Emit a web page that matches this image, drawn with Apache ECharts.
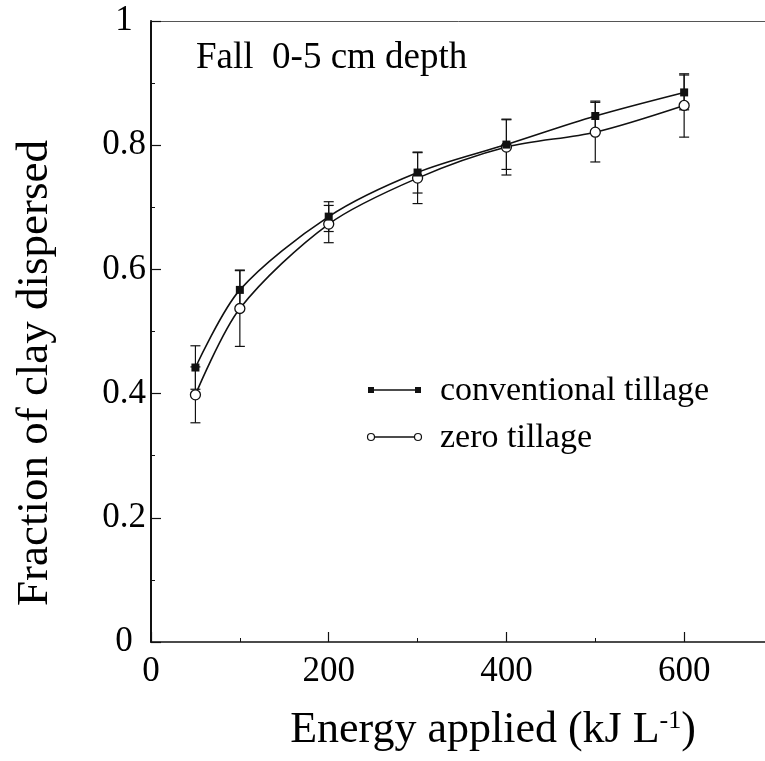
<!DOCTYPE html>
<html>
<head>
<meta charset="utf-8">
<script src="https://cdn.jsdelivr.net/npm/echarts@6/dist/echarts.min.js"></script>
<style>
  html, body { margin: 0; padding: 0; background: #fff; }
  #chart { width: 765px; height: 761px; }
</style>
</head>
<body>
<div id="chart"></div>
<script>
// Energy applied (kJ/L) at each sonication step
var energy = [50, 100, 200, 300, 400, 500, 600];
// Fraction of clay dispersed, conventional tillage (mean and error)
var convMean = [0.442, 0.567, 0.685, 0.756, 0.801, 0.847, 0.885];
var convErr  = [0.035, 0.032, 0.024, 0.033, 0.040, 0.024, 0.028];
// Fraction of clay dispersed, zero tillage (mean and error)
var zeroMean = [0.398, 0.537, 0.673, 0.747, 0.797, 0.821, 0.864];
var zeroErr  = [0.045, 0.061, 0.030, 0.041, 0.045, 0.048, 0.051];

var FONT = '"Liberation Serif", "Times New Roman", serif';

function pairs(xs, ys) {
  return xs.map(function (x, i) { return [x, ys[i]]; });
}
function errRows(xs, ys, es) {
  return xs.map(function (x, i) { return [x, ys[i] - es[i], ys[i] + es[i]]; });
}

// vertical error bar with caps at both ends
function renderErrorBar(params, api) {
  var x = api.value(0);
  var lo = api.coord([x, api.value(1)]);
  var hi = api.coord([x, api.value(2)]);
  var half = 5;
  var style = { stroke: '#111', lineWidth: 1.2, fill: null };
  return {
    type: 'group',
    children: [
      { type: 'line', shape: { x1: lo[0], y1: lo[1], x2: hi[0], y2: hi[1] }, style: style },
      { type: 'line', shape: { x1: lo[0] - half, y1: lo[1], x2: lo[0] + half, y2: lo[1] }, style: style },
      { type: 'line', shape: { x1: hi[0] - half, y1: hi[1], x2: hi[0] + half, y2: hi[1] }, style: style }
    ]
  };
}

var chart = echarts.init(document.getElementById('chart'), null, { renderer: 'canvas' });

var option = {
  backgroundColor: '#ffffff',
  animation: false,
  // the frame runs a little past the right edge of the canvas
  grid: { left: 151, right: -8, top: 21, bottom: 119, outerBoundsMode: 'none', containLabel: false },
  xAxis: [
    {
      type: 'value', min: 0, max: 700, interval: 200, position: 'bottom',
      axisLine: { show: true, lineStyle: { color: '#111', width: 1.5 } },
      axisTick: { show: true, inside: true, length: 10, lineStyle: { color: '#111', width: 1.2 } },
      axisLabel: {
        margin: 12, color: '#000', fontFamily: FONT, fontSize: 35,
        formatter: function (v) { return v % 200 === 0 ? String(v) : ''; }
      },
      splitLine: { show: false }
    },
    {
      type: 'value', min: 0, max: 700, interval: 100, position: 'bottom',
      axisLine: { show: false },
      axisTick: { show: true, inside: true, length: 4, lineStyle: { color: '#111', width: 1 } },
      axisLabel: { show: false },
      splitLine: { show: false }
    },
    {
      type: 'value', min: 0, max: 700, position: 'top',
      axisLine: { show: true, lineStyle: { color: '#555', width: 1 } },
      axisTick: { show: false }, axisLabel: { show: false }, splitLine: { show: false }
    }
  ],
  yAxis: [
    {
      type: 'value', min: 0, max: 1, interval: 0.2, position: 'left',
      axisLine: { show: true, lineStyle: { color: '#111', width: 2 } },
      axisTick: { show: true, inside: true, length: 10, lineStyle: { color: '#111', width: 1.2 } },
      axisLabel: {
        margin: 27, align: 'center', color: '#000', fontFamily: FONT, fontSize: 35,
        formatter: function (v) { return String(Math.round(v * 10) / 10); }
      },
      splitLine: { show: false }
    },
    {
      type: 'value', min: 0, max: 1, interval: 0.1, position: 'left',
      axisLine: { show: false },
      axisTick: { show: true, inside: true, length: 4, lineStyle: { color: '#111', width: 1 } },
      axisLabel: { show: false },
      splitLine: { show: false }
    }
  ],
  series: [
    {
      name: 'conventional tillage err', type: 'custom', z: 1,
      renderItem: renderErrorBar,
      encode: { x: 0, y: [1, 2] },
      data: errRows(energy, convMean, convErr)
    },
    {
      name: 'zero tillage err', type: 'custom', z: 1,
      renderItem: renderErrorBar,
      encode: { x: 0, y: [1, 2] },
      data: errRows(energy, zeroMean, zeroErr)
    },
    {
      name: 'zero tillage', type: 'line', z: 3,
      smooth: 0.3,
      data: pairs(energy, zeroMean),
      symbol: 'circle', symbolSize: 10,
      lineStyle: { color: '#111', width: 1.6 },
      itemStyle: { color: '#fff', borderColor: '#111', borderWidth: 1.3 }
    },
    {
      name: 'conventional tillage', type: 'line', z: 4,
      smooth: 0.3,
      data: pairs(energy, convMean),
      symbol: 'rect', symbolSize: 8,
      lineStyle: { color: '#111', width: 1.6 },
      itemStyle: { color: '#111' }
    }
  ],
  graphic: [
    {
      type: 'text', left: 196, top: 40,
      style: { text: 'Fall  0-5 cm depth', font: '37px ' + FONT, fill: '#000' }
    },
    // legend: conventional tillage
    { type: 'line', shape: { x1: 371, y1: 390, x2: 418, y2: 390 }, style: { stroke: '#111', lineWidth: 1.3 } },
    { type: 'rect', shape: { x: 368, y: 387, width: 6, height: 6 }, style: { fill: '#111' } },
    { type: 'rect', shape: { x: 415, y: 387, width: 6, height: 6 }, style: { fill: '#111' } },
    { type: 'text', x: 440, y: 391, style: { text: 'conventional tillage', font: '34px ' + FONT, fill: '#000', verticalAlign: 'middle' } },
    // legend: zero tillage
    { type: 'line', shape: { x1: 371, y1: 437, x2: 418, y2: 437 }, style: { stroke: '#111', lineWidth: 1.3 } },
    { type: 'circle', shape: { cx: 371, cy: 437, r: 3.5 }, style: { fill: '#fff', stroke: '#111', lineWidth: 1.2 } },
    { type: 'circle', shape: { cx: 418, cy: 437, r: 3.5 }, style: { fill: '#fff', stroke: '#111', lineWidth: 1.2 } },
    { type: 'text', x: 440, y: 438, style: { text: 'zero tillage', font: '34px ' + FONT, fill: '#000', verticalAlign: 'middle' } },
    // axis titles
    {
      type: 'text', x: 493, y: 730,
      style: {
        text: '{t|Energy applied (kJ L}{s|-1}{t|)}',
        rich: {
          t: { font: '44px ' + FONT, fill: '#000' },
          s: { font: '26px ' + FONT, fill: '#000', verticalAlign: 'top', padding: [0, 0, 16, 0] }
        },
        align: 'center', verticalAlign: 'middle'
      }
    },
    {
      type: 'text', x: 35, y: 373, rotation: Math.PI / 2,
      style: { text: 'Fraction of clay dispersed', font: '45px ' + FONT, fill: '#000', align: 'center', verticalAlign: 'middle' }
    }
  ]
};

chart.setOption(option);
</script>
</body>
</html>
